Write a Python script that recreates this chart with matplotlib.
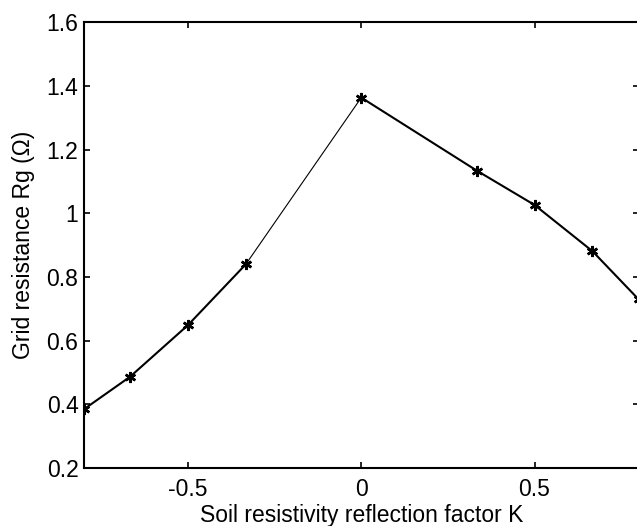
import numpy as np
import matplotlib.pyplot as plt
from matplotlib.ticker import FormatStrFormatter

# Data
K = [-0.8, -0.667, -0.5, -0.333, 0.0, 0.333, 0.5, 0.667, 0.8]
Rg = [0.385, 0.487, 0.649, 0.84, 1.363, 1.134, 1.026, 0.881, 0.73]
x_ticks = [-0.5, 0, 0.5]
y_ticks = [0.2, 0.4, 0.6, 0.8, 1.0, 1.2, 1.4, 1.6]

plt.rcParams['font.family'] = ['Liberation Sans', 'DejaVu Sans']

fig = plt.figure(figsize=(6.37, 5.26), dpi=100)
# right edge of the axes sits just past the image border, as in the reference
ax = fig.add_axes([0.1319, 0.110, 0.8705, 0.848])

# the segment between the 4th and 5th point is drawn thinner
ax.plot(K[:4], Rg[:4], color='black', lw=1.5)
ax.plot(K[3:5], Rg[3:5], color='black', lw=0.8)
ax.plot(K[4:], Rg[4:], color='black', lw=1.5)
ax.plot(K, Rg, ls='none', marker=(6, 2, 0), color='black', ms=8, mew=1.8)

ax.set_xlim(-0.8, 0.8)
ax.set_ylim(0.2, 1.6)
ax.set_xticks(x_ticks)
ax.set_yticks(y_ticks)
ax.yaxis.set_major_formatter(FormatStrFormatter('%g'))
ax.xaxis.set_major_formatter(FormatStrFormatter('%g'))
ax.tick_params(direction='in', top=True, right=True, length=4, width=1.2,
               labelsize=16.5)
ax.tick_params(axis='x', pad=7)
ax.tick_params(axis='y', pad=4)
for s in ax.spines.values():
    s.set_linewidth(1.5)

ax.set_xlabel('Soil resistivity reflection factor K', fontsize=16.5, labelpad=2)
ax.set_ylabel('Grid resistance Rg (Ω)', fontsize=16.5, labelpad=8)

fig.savefig('out.png', dpi=100)
